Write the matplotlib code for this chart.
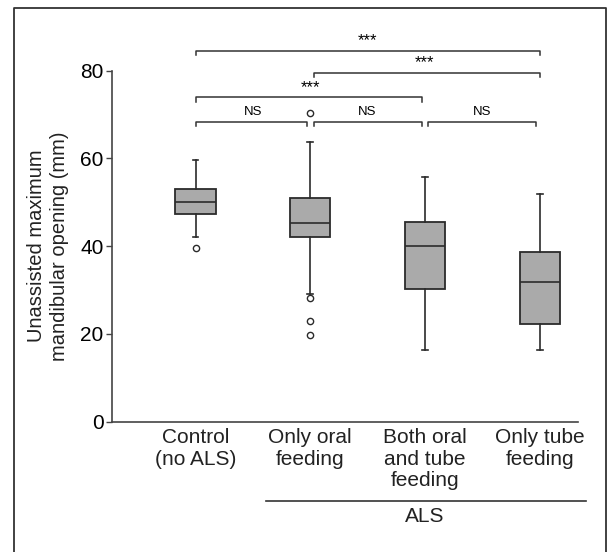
import matplotlib
matplotlib.use("Agg")
import matplotlib.pyplot as plt
from matplotlib.lines import Line2D

plt.rcParams['font.family'] = ['Liberation Sans', 'DejaVu Sans']

# box statistics (mm)
groups = ["Control\n(no ALS)", "Only oral\nfeeding", "Both oral\nand tube\nfeeding", "Only tube\nfeeding"]
medians = [50.1, 45.2, 40.1, 31.7]
q1s = [47.4, 42.1, 30.3, 22.3]
q3s = [53.0, 51.0, 45.5, 38.6]
whisk_low = [42.1, 29.0, 16.2, 16.2]
whisk_high = [59.7, 63.6, 55.8, 51.9]
outliers = [[39.6], [70.3, 28.2, 23.0, 19.7], [], []]

# significance brackets: (from group, to group, height, label)
brackets = [(1, 4, 84.5, "***"), (2, 4, 79.5, "***"), (1, 3, 73.9, "***"),
            (1, 2, 68.3, "NS"), (2, 3, 68.3, "NS"), (3, 4, 68.3, "NS")]

fig = plt.figure(figsize=(6.15, 5.52), dpi=100)
ax = fig.add_axes([112/615, 1-421.5/552, 466/615, 351/552])

stats = []
for i in range(len(groups)):
    stats.append({"med": medians[i], "q1": q1s[i], "q3": q3s[i],
                  "whislo": whisk_low[i], "whishi": whisk_high[i],
                  "fliers": outliers[i]})

edge = "#2b2b2b"
ax.bxp(stats, positions=[1, 2, 3, 4], widths=0.35, patch_artist=True,
       showfliers=True,
       boxprops=dict(facecolor="#aaaaaa", edgecolor=edge, linewidth=1.3),
       medianprops=dict(color=edge, linewidth=1.2),
       whiskerprops=dict(color=edge, linewidth=1.2),
       capprops=dict(color=edge, linewidth=1.2),
       capwidths=0.05,
       flierprops=dict(marker="o", markersize=4.5, markerfacecolor="white",
                       markeredgecolor=edge, markeredgewidth=1.0))

ax.set_xlim(0.272, 4.334)
ax.set_ylim(0, 80)
ax.set_yticks([0, 20, 40, 60, 80])
ax.tick_params(axis="y", labelsize=15, length=4, width=1, color="#444444", pad=2)
ax.set_xticks([1, 2, 3, 4])
ax.set_xticklabels(groups, fontsize=15, linespacing=1.15, color="#222222")
ax.tick_params(axis="x", length=0, pad=5)
for s in ["top", "right"]:
    ax.spines[s].set_visible(False)
ax.spines["left"].set_color("#444444")
ax.spines["bottom"].set_color("#444444")
ax.spines["left"].set_linewidth(1.2)
ax.spines["bottom"].set_linewidth(1.2)
ax.set_ylabel("Unassisted maximum\nmandibular opening (mm)", fontsize=14.5,
              linespacing=1.25, color="#222222", labelpad=8)

# brackets above the boxes
for a, b, h, lab in brackets:
    x0, x1 = a, b
    if a == 2 or (lab == "NS" and a > 1):
        x0 = a + 0.03
    if lab == "NS" or (a == 1 and b == 3):
        x1 = b - 0.03
    ax.plot([x0, x0, x1, x1], [h - 1.0, h, h, h - 1.0], color="#333333",
            linewidth=1.1, clip_on=False)
    if lab == "NS":
        ax.text((a + b) / 2, h + 0.9, lab, ha="center", va="bottom", fontsize=9.5)
    else:
        ax.text((a + b) / 2, h + 0.5, lab, ha="center", va="bottom", fontsize=12)

# ALS grouping line below the labels
fig.add_artist(Line2D([266/615, 586/615], [1-500.7/552, 1-500.7/552],
                      color="#333333", linewidth=1.2))
fig.text(425/615, 1-517/552, "ALS", ha="center", va="center", fontsize=15,
         color="#222222")

# panel frame
fig.add_artist(Line2D([14/615, 14/615, 606/615, 606/615],
                      [0, 1-8/552, 1-8/552, 0], color="#333333", linewidth=1.3))

fig.savefig("out.png", dpi=100)
